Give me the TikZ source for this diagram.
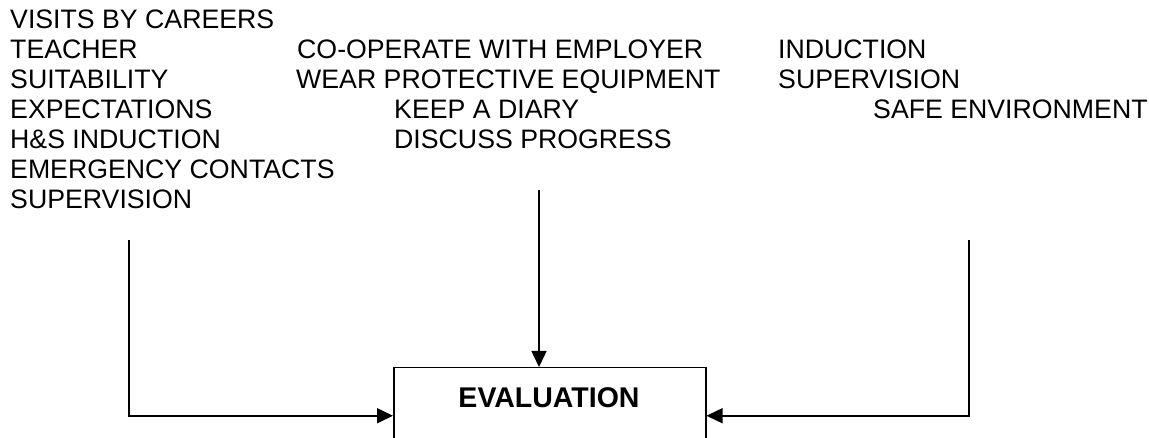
\documentclass[tikz,border=0pt]{standalone}
\usepackage{fontspec}
\setmainfont{Liberation Sans}
\usetikzlibrary{arrows.meta}
\begin{document}
\begin{tikzpicture}[x=1pt,y=-1pt,
  lbl/.style={anchor=base west,inner sep=0pt,font=\fontsize{26.7}{30}\selectfont},
  conn/.style={line width=1.5pt},
  arr/.style={conn,-{Triangle[length=16pt,width=15pt]}},
  box/.style={draw,line width=1.5pt,anchor=north west,minimum width=312pt,minimum height=96pt,inner sep=0pt}]
\useasboundingbox[fill=white] (0,0) rectangle (1149,438);
% column 1
\node[lbl] (a0) at (10,29) {VISITS BY CAREERS};
\node[lbl] (a1) at (10,59) {TEACHER};
\node[lbl] (a2) at (10,89) {SUITABILITY};
\node[lbl] (a3) at (10,119) {EXPECTATIONS};
\node[lbl] (a4) at (10,149) {H\&S INDUCTION};
\node[lbl] (a5) at (10,179) {EMERGENCY CONTACTS};
\node[lbl] (a6) at (10,209) {SUPERVISION};
% column 2
\node[lbl] (b1) at (297,59) {CO-OPERATE WITH EMPLOYER};
\node[lbl] (b2) at (296,89) {WEAR PROTECTIVE EQUIPMENT};
\node[lbl] (b3) at (394,119) {KEEP A DIARY};
\node[lbl] (b4) at (394,149) {DISCUSS PROGRESS};
% column 3
\node[lbl] (c1) at (778,59) {INDUCTION};
\node[lbl] (c2) at (778,89) {SUPERVISION};
\node[lbl] (c3) at (873,119) {SAFE ENVIRONMENT};
% evaluation box
\node[box] (eval) at (393,367) {};
\node[anchor=base,inner sep=0pt,font=\fontsize{28.5}{32}\selectfont\bfseries] (evaltext) at (549,407) {EVALUATION};
% connectors
\coordinate (lstart) at (129,240);
\coordinate (rstart) at (969,240);
\coordinate (cstart) at (539,190);
\draw[arr] (lstart) |- (eval.west);
\draw[arr] (rstart) |- (eval.east);
\draw[arr] (cstart) -- (cstart |- eval.north);
\end{tikzpicture}
\end{document}
